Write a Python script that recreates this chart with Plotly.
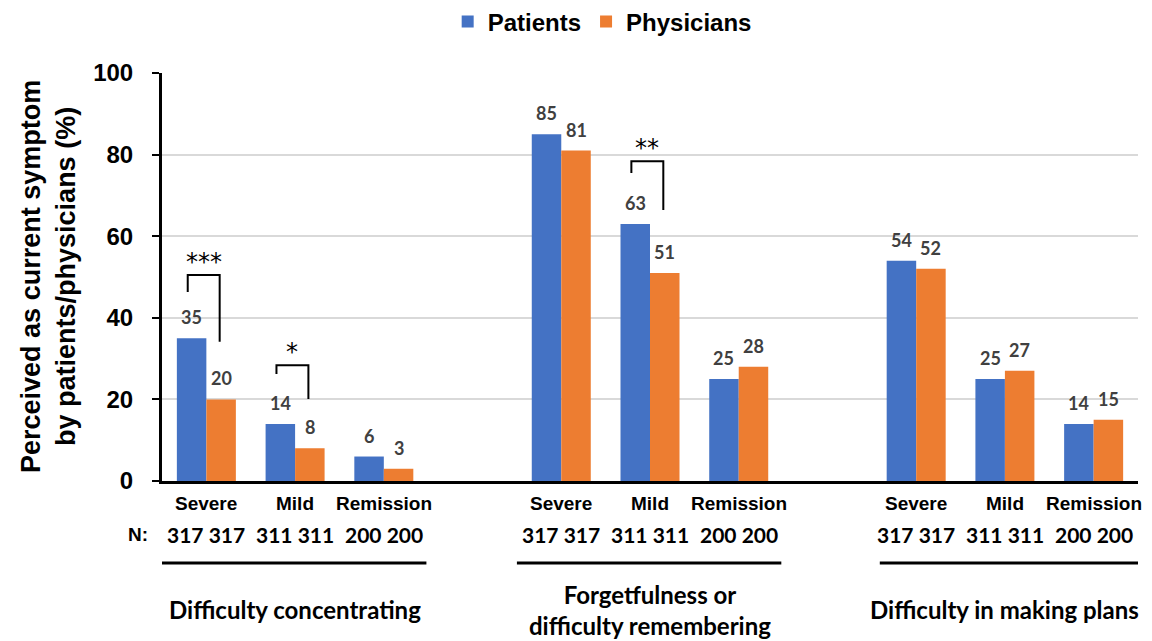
import plotly.graph_objects as go

# ---------------- data ----------------
groups = ["Difficulty concentrating", "Forgetfulness or<br>difficulty remembering", "Difficulty in making plans"]
severities = ["Severe", "Mild", "Remission"]
n_labels = ["317 317", "311 311", "200 200"]
patients = [35, 14, 6, 85, 63, 25, 54, 25, 14]
physicians = [20, 8, 3, 81, 51, 28, 52, 27, 15]

# significance brackets: (category index, left-leg bottom, top, right-leg bottom, label)
sig_index = [0, 1, 4]
sig_left_bottom = [46.3, 26.2, 75.5]
sig_top = [50.5, 28.4, 78.4]
sig_right_bottom = [34.1, 20.1, 66.4]
sig_labels = ["***", "*", "**"]

BLUE = "#4472C4"
ORANGE = "#ED7D31"
ARIAL = "Liberation Sans, Arial, sans-serif"
CALIBRI = "Lato, Carlito, Calibri, sans-serif"

# slot positions: 3 groups of 3 with an empty slot between groups
slots = [g * 4 + i for g in range(len(groups)) for i in range(len(severities))]
bargap = 0.335
half = (1 - bargap) / 4  # centre offset of each bar within its pair

fig = go.Figure()
fig.add_trace(go.Bar(x=slots, y=patients, name="Patients", marker=dict(color=BLUE, line=dict(width=0))))
fig.add_trace(go.Bar(x=slots, y=physicians, name="Physicians", marker=dict(color=ORANGE, line=dict(width=0))))

annotations = []
# data labels
for s, v in zip(slots, patients):
    annotations.append(dict(x=s - half, y=v, xref="x", yref="y", text=str(v), showarrow=False,
                            yanchor="bottom", yshift=8,
                            font=dict(family=CALIBRI, size=18, color="#404040", weight="bold")))
for s, v in zip(slots, physicians):
    annotations.append(dict(x=s + half, y=v, xref="x", yref="y", text=str(v), showarrow=False,
                            yanchor="bottom", yshift=8,
                            font=dict(family=CALIBRI, size=18, color="#404040", weight="bold")))

# category labels and N
for k, s in enumerate(slots):
    annotations.append(dict(x=s, y=-0.054, xref="x", yref="paper", text=severities[k % 3], showarrow=False,
                            xanchor="center", yanchor="middle",
                            font=dict(family=ARIAL, size=19, color="black", weight="bold")))
    annotations.append(dict(x=s, y=-0.132, xref="x", yref="paper", text=n_labels[k % 3], showarrow=False,
                            xanchor="center", yanchor="middle",
                            font=dict(family=CALIBRI, size=21, color="black", weight="bold")))
annotations.append(dict(x=(138 - 162) / 976, y=-0.132, xref="paper", yref="paper", text="N:", showarrow=False,
                        xanchor="center", yanchor="middle",
                        font=dict(family=ARIAL, size=19, color="black", weight="bold")))

# group labels
for g, name in enumerate(groups):
    annotations.append(dict(x=g * 4 + 1, y=-0.316, xref="x", yref="paper", text=name, showarrow=False,
                            xanchor="center", yanchor="middle",
                            font=dict(family=CALIBRI, size=24, color="black", weight="bold")))

# y title
annotations.append(dict(x=(48 - 162) / 976, y=0.5, xref="paper", yref="paper",
                        text="Perceived as current symptom<br>by patients/physicians (%)",
                        textangle=-90, showarrow=False, xanchor="center", yanchor="middle",
                        font=dict(family=ARIAL, size=27, color="black", weight="bold")))

shapes = []
# group underline
line_ext = [(-0.5, 2.48), (3.5, 6.48), (7.59, 10.55)]
for x0, x1 in line_ext:
    shapes.append(dict(type="line", xref="x", yref="paper", x0=x0, x1=x1, y0=-0.201, y1=-0.201,
                       line=dict(color="black", width=3)))

# significance brackets
for idx, lb, tp, rb, lab in zip(sig_index, sig_left_bottom, sig_top, sig_right_bottom, sig_labels):
    c = slots[idx]
    xl, xr = c - 0.21, c + 0.15
    shapes.append(dict(type="path", xref="x", yref="y",
                       path=f"M {xl},{lb} L {xl},{tp} L {xr},{tp} L {xr},{rb}",
                       line=dict(color="black", width=2)))
    annotations.append(dict(x=(xl + xr) / 2, y=tp, xref="x", yref="y", text=lab, showarrow=False,
                            xanchor="center", yanchor="bottom", yshift=-3,
                            font=dict(family="DejaVu Sans", size=24, color="black")))

fig.update_layout(
    width=1152, height=641,
    margin=dict(l=162, r=14, t=73, b=160, autoexpand=False),
    paper_bgcolor="white", plot_bgcolor="white",
    barmode="group", bargap=bargap, bargroupgap=0,
    showlegend=True,
    legend=dict(orientation="h", x=0.451, y=1.125, xanchor="center", yanchor="middle",
                font=dict(family=ARIAL, size=24, color="black", weight="bold"),
                itemwidth=30, bgcolor="rgba(0,0,0,0)"),
    xaxis=dict(range=[-0.5, 10.5], showline=True, linecolor="black", linewidth=3,
               showticklabels=False, ticks="", showgrid=False, zeroline=False, fixedrange=True,
               automargin=False),
    yaxis=dict(range=[0, 100], dtick=20, showline=True, linecolor="black", linewidth=3,
               ticks="outside", ticklen=7, tickwidth=2, tickcolor="black",
               showgrid=True, gridcolor="#d9d9d9", gridwidth=1.5, zeroline=False,
               tickfont=dict(family=ARIAL, size=24, color="black", weight="bold"),
               ticklabelstandoff=14, automargin=False),
    annotations=annotations,
    shapes=shapes,
)

fig.write_html("out.html", config={"displayModeBar": False},
               post_script="document.body.style.margin='0px';")
